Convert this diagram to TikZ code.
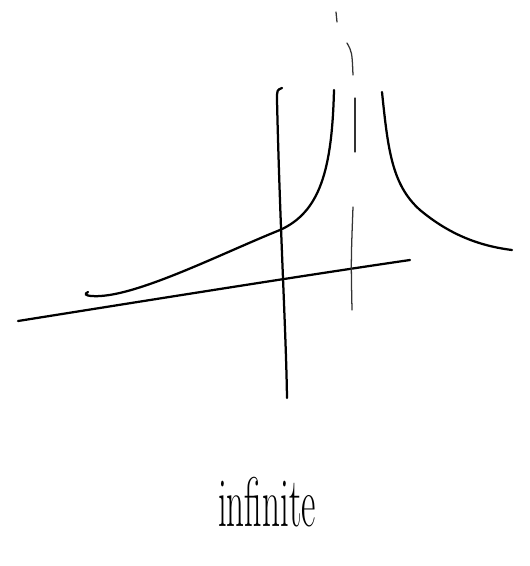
\documentclass[tikz,border=0pt]{standalone}
\usepackage{tikz}
\usetikzlibrary{calc}

\begin{document}
\begin{tikzpicture}[
  x=0.5mm, y=-0.5mm,
  pen/.style={line width=3.2pt, line cap=round, black},
  asym/.style={line width=1.8pt, line cap=round, black!80}
]
\useasboundingbox (0,0) rectangle (529,566);
% axes
\draw[pen] (18,321) .. controls (150,300) and (300,276) .. (410,260);
\draw[pen] (282,88) .. controls (277,90) .. (277,100) .. controls (280,230) and (286,330) .. (287,398);
% asymptote, broken
\draw[asym] (336,12) -- (337,22);
\draw[asym] (347,43) .. controls (352,52) .. (353,75);
\draw[asym] (355,98) -- (355,152);
\draw[asym] (353,207) .. controls (351,260) .. (352,310);
% left branch
\draw[pen] (88,292) .. controls (80,296) and (95,298) .. (115,294)
  .. controls (160,285) and (230,250) .. (280,230)
  .. controls (320,212) and (332,170) .. (334,90);
% right branch
\draw[pen] (382,92) .. controls (388,150) and (392,185) .. (420,210)
  .. controls (450,235) and (480,246) .. (512,250);
% caption
\node[font=\fontsize{50}{54}\selectfont, anchor=base, inner sep=0pt] (cap) at (267,526) {\scalebox{1}[2]{infinite}};
\end{tikzpicture}
\end{document}
